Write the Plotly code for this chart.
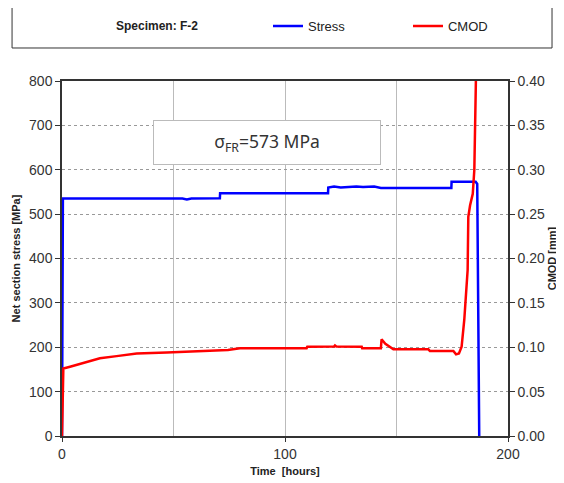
import plotly.graph_objects as go

# Stress series (time [h], net section stress [MPa])
stress_t = [0, 0.2, 0.4, 54, 56, 58, 70.8, 70.9, 119.3, 119.4, 122, 125, 132, 135, 140, 143,
            174.6, 174.7, 185.5, 186.2, 187.1]
stress_v = [0, 295, 535, 535, 533, 535, 536, 547, 547, 560, 562, 560, 562, 561, 562, 559,
            559, 573, 573, 568, 0]

# CMOD series (time [h], CMOD [mm])
cmod_t = [0, 0.2, 0.4, 0.6, 3.6, 9.6, 17, 24.5, 33.5, 47, 57.4, 74.4, 79.8, 109.7, 110, 122, 122.4, 123,
          134.4, 134.6, 143, 143.3, 145, 148.6, 164.3, 165, 175.5, 176.7, 178, 179.2, 180.4, 181.9,
          182.2, 183, 184.2, 184.9, 185.6, 185.8]
cmod_v = [0, 0.024, 0.025, 0.076, 0.078, 0.082, 0.0875, 0.090, 0.093, 0.094, 0.0954, 0.097, 0.0988,
          0.099, 0.1006, 0.1008, 0.102, 0.1008, 0.1006, 0.099, 0.099, 0.109, 0.104, 0.0977, 0.0977,
          0.0958, 0.0958, 0.092, 0.093, 0.1006, 0.131, 0.187, 0.247, 0.260, 0.273, 0.30, 0.40, 0.42]

x_ticks = [0, 100, 200]
x_ticktext = ["0", "100", "200"]

FONT = "Liberation Sans, Arial, sans-serif"

fig = go.Figure()
fig.add_trace(go.Scatter(x=stress_t, y=stress_v, mode="lines", name="Stress",
                         line=dict(color="#0000FF", width=2.5)))
fig.add_trace(go.Scatter(x=cmod_t, y=cmod_v, mode="lines", name="CMOD", yaxis="y2",
                         line=dict(color="#FF0000", width=2.5)))

fig.update_layout(
    width=556, height=475,
    margin=dict(l=54, r=56, t=73, b=47, autoexpand=False),
    paper_bgcolor="white", plot_bgcolor="white",
    font=dict(family=FONT, color="#333333"),
    showlegend=True,
    legend=dict(orientation="h", xref="container", yref="container",
                x=0.4676, xanchor="left", y=0.962, yanchor="middle",
                font=dict(size=13, color="#222222"), bgcolor="rgba(0,0,0,0)",
                entrywidth=95, entrywidthmode="pixels", itemclick=False),
    xaxis=dict(range=[0, 200], tickvals=x_ticks, ticktext=x_ticktext, automargin=False,
               showgrid=True, gridcolor="#BBBBBB", gridwidth=1,
               minor=dict(dtick=50, tick0=0, showgrid=True, gridcolor="#BBBBBB", gridwidth=1, ticks=""),
               showline=True, linecolor="#333333", linewidth=1.5, mirror=True,
               ticks="outside", ticklen=4, tickcolor="#333333",
               tickfont=dict(size=14, color="#333333"), zeroline=False,
               title=dict(text="<b>Time  [hours]</b>", font=dict(size=11, color="#222222"), standoff=7)),
    yaxis=dict(range=[0, 800], dtick=100, showgrid=True, gridcolor="#999999", griddash="dot",
               showline=True, linecolor="#333333", linewidth=1.5, automargin=False,
               ticks="outside", ticklen=5, tickcolor="#333333",
               tickfont=dict(size=14, color="#333333"), zeroline=False,
               title=dict(text="<b>Net section stress [MPa]</b>", font=dict(size=11, color="#222222"), standoff=6)),
    yaxis2=dict(range=[0, 0.4], dtick=0.05, tickformat=".2f", overlaying="y", side="right",
                showgrid=False, showline=True, linecolor="#333333", linewidth=1.5, automargin=False,
                ticks="outside", ticklen=5, tickcolor="#333333",
                tickfont=dict(size=14, color="#333333"), zeroline=False,
                title=dict(text="<b>CMOD [mm]</b>", font=dict(size=11, color="#222222"), standoff=4)),
)

# Legend frame box
fig.add_shape(type="rect", xref="paper", yref="paper", x0=-0.112, x1=1.0987, y0=1.093, y1=1.214,
              line=dict(color="#333333", width=1), fillcolor="rgba(0,0,0,0)", layer="below")
fig.add_annotation(text="<b>Specimen: F-2</b>", xref="paper", yref="paper", x=0.213, y=1.155,
                   showarrow=False, font=dict(size=12, color="#222222"), xanchor="center", yanchor="middle")

# Fracture stress annotation box
fig.add_annotation(text="σ<sub>FR</sub>=573 MPa", xref="paper", yref="paper", x=0.459, y=0.828,
                   showarrow=False, font=dict(size=17.5, color="#333333", family="Noto Sans, sans-serif"),
                   xanchor="center", yanchor="middle",
                   bgcolor="white", bordercolor="#BBBBBB", borderwidth=1,
                   width=224, height=41)

fig.write_html("out.html")
